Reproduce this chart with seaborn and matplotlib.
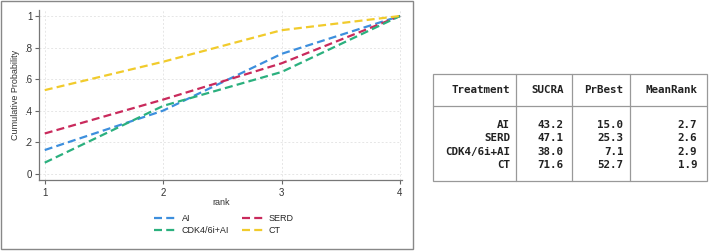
import pandas as pd
import seaborn as sns
import matplotlib.pyplot as plt
from matplotlib.lines import Line2D
from matplotlib.patches import Rectangle

# cumulative ranking probabilities
ranks = [1, 2, 3, 4]
treatments = ["AI", "SERD", "CDK4/6i+AI", "CT"]
cum_ai = [0.15, 0.40, 0.76, 1.0]
cum_serd = [0.255, 0.47, 0.70, 1.0]
cum_cdk = [0.07, 0.43, 0.645, 1.0]
cum_ct = [0.53, 0.71, 0.91, 1.0]

# summary table
sucra = ["43.2", "47.1", "38.0", "71.6"]
prbest = ["15.0", "25.3", "7.1", "52.7"]
meanrank = ["2.7", "2.6", "2.9", "1.9"]

colors = {"AI": "#3d8fdd", "SERD": "#c92a5c", "CDK4/6i+AI": "#2bb07e", "CT": "#f1cb2c"}

df = pd.DataFrame({
    "rank": ranks * 4,
    "prob": cum_ai + cum_serd + cum_cdk + cum_ct,
    "treatment": [t for t in treatments for _ in ranks],
})

sns.set_style("white")
plt.rcParams["font.family"] = ["Liberation Sans", "DejaVu Sans"]

W, H = 709, 252
fig = plt.figure(figsize=(W / 100, H / 100), dpi=100)
ax = fig.add_axes([39.3 / W, 1 - 180 / H, (402 - 39.3) / W, (180 - 9.7) / H])

dash = (0, (3.6, 1.9))
sns.lineplot(data=df, x="rank", y="prob", hue="treatment", palette=colors,
             linewidth=1.6, legend=False, ax=ax)
for ln in ax.get_lines():
    ln.set_linestyle(dash)

ax.set_xlim(0.954, 4.017)
ax.set_ylim(-0.04, 1.04)
ax.set_xticks(ranks)
ax.set_xticklabels(["1", "2", "3", "4"])
ax.set_yticks([0, 0.2, 0.4, 0.6, 0.8, 1.0])
ax.set_yticklabels(["0", ".2", ".4", ".6", ".8", "1"])
ax.tick_params(axis="both", labelsize=7, length=3, width=0.8, color="#666666",
               direction="out", pad=2, labelcolor="#333333")
ax.tick_params(axis="x", pad=3)
ax.tick_params(left=True, bottom=True)
ax.grid(True, color="#e6e6e6", linestyle=(0, (2, 2)), linewidth=0.7)
for s in ["top", "right"]:
    ax.spines[s].set_visible(False)
for s in ["left", "bottom"]:
    ax.spines[s].set_color("#777777")
    ax.spines[s].set_linewidth(0.9)

ax.set_xlabel("rank", fontsize=6.5, color="#333333", labelpad=0)
ax.set_ylabel("Cumulative Probability", fontsize=6.5, color="#333333", labelpad=3)

handles = [Line2D([], [], color=colors[t], linewidth=1.6, linestyle=dash) for t in treatments]
order = [0, 2, 1, 3]
ax.legend([handles[i] for i in order], [treatments[i] for i in order], ncol=2,
          loc="center", bbox_to_anchor=((224 - 39.3) / (402 - 39.3), -0.262),
          frameon=False, fontsize=6.5, handlelength=2.4, columnspacing=1.4,
          handletextpad=0.6, labelspacing=0.25, borderaxespad=0)

# frame around the graph panel
fig.patches.append(Rectangle((1 / W, 3 / H), 412 / W, 248 / H, transform=fig.transFigure,
                             fill=False, edgecolor="#888888", linewidth=1.0))

# table panel
tx0, tx1 = 433.3 / W, 706.7 / W
ty_top, ty_head, ty_bot = 1 - 74.3 / H, 1 - 106 / H, 1 - 180.7 / H
fig.patches.append(Rectangle((tx0, ty_bot), tx1 - tx0, ty_top - ty_bot, transform=fig.transFigure,
                             fill=False, edgecolor="#999999", linewidth=0.9))
fig.lines.append(Line2D([tx0, tx1], [ty_head, ty_head], transform=fig.transFigure,
                        color="#999999", linewidth=0.9))
for xs in [516, 572, 630]:
    fig.lines.append(Line2D([xs / W, xs / W], [ty_bot, ty_top], transform=fig.transFigure,
                            color="#999999", linewidth=0.9))

mono = dict(family="DejaVu Sans Mono", weight="bold", fontsize=7.8, color="#222222", ha="right", va="center")
col_right = [510, 563.7, 623.3, 697.3]
headers = ["Treatment", "SUCRA", "PrBest", "MeanRank"]
for x, h in zip(col_right, headers):
    fig.text(x / W, 1 - 90 / H, h, **mono)
row_y = [124.7, 138.2, 151.7, 165.2]
for i, y in enumerate(row_y):
    for x, v in zip(col_right, [treatments[i], sucra[i], prbest[i], meanrank[i]]):
        fig.text(x / W, 1 - y / H, v, **mono)

fig.savefig("out.png", dpi=100)
